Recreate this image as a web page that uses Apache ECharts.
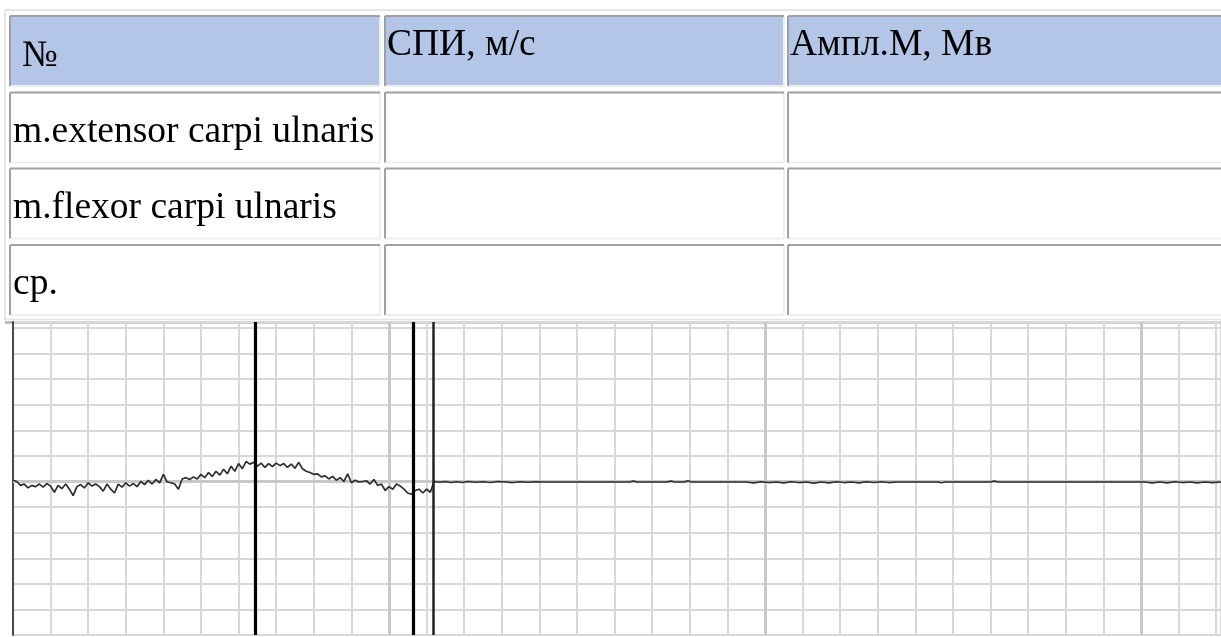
<!DOCTYPE html>
<html>
<head>
<meta charset="utf-8">
<script src="https://cdn.jsdelivr.net/npm/echarts@6/dist/echarts.min.js"></script>
<style>
html,body{margin:0;padding:0;background:#fff;}
#chart{width:1221px;height:637px;}
</style>
</head>
<body>
<div id="chart"></div>
<script>
// ---- table texts ----
const columnHeaders = ['№', 'СПИ, м/с', 'Ампл.М, Мв'];
const rowLabels = ['m.extensor carpi ulnaris', 'm.flexor carpi ulnaris', 'ср.'];

// ---- trace data (grid divisions) ----
const sampleStep = 0.1;
const noisyTrace = [0.05,0.0,-0.15,-0.1,-0.25,-0.15,-0.2,-0.1,-0.22,-0.08,
-0.18,-0.42,-0.15,-0.28,-0.1,-0.3,-0.55,-0.2,-0.12,-0.25,
-0.05,-0.18,-0.1,-0.2,-0.38,-0.1,-0.3,-0.45,-0.1,-0.22,
-0.05,-0.18,-0.08,-0.2,0.0,-0.12,0.05,-0.1,0.08,-0.05,
0.28,-0.02,-0.05,-0.1,-0.3,0.1,0.15,0.08,0.18,0.1,
0.28,0.15,0.35,0.2,0.4,0.25,0.48,0.3,0.6,0.4,
0.7,0.5,0.78,0.68,0.75,0.6,0.72,0.55,0.7,0.58,
0.72,0.62,0.7,0.55,0.68,0.52,0.75,0.5,0.4,0.35,
0.28,0.3,0.18,0.22,0.1,0.2,0.05,0.15,0.0,0.3,
-0.05,0.05,-0.02,0.0,0.03,-0.1,0.08,-0.15,-0.1,-0.35,
-0.2,-0.3,-0.1,-0.18,-0.3,-0.45,-0.5,-0.35,-0.3,-0.45,
-0.3,-0.42,0.0];
const restTrace = [[11.35,-0.03],[11.5,0.0],[11.65,-0.04],[11.8,-0.01],[11.95,-0.04],[12.1,0.0],[12.3,-0.03],[12.5,-0.01],[12.7,-0.04],[12.9,0.0],[13.1,-0.02],[13.3,-0.04],[13.5,-0.01],[13.7,-0.03],[13.9,-0.01],[14.1,-0.02],[15.0,-0.02],[16.4,-0.02],[16.5,0.02],[16.6,-0.02],[17.4,-0.02],[17.5,0.02],[17.6,-0.02],[17.85,-0.02],[17.95,0.03],[18.05,-0.02],[19.5,-0.02],[19.7,-0.05],[19.9,-0.01],[20.1,-0.04],[20.3,-0.02],[20.5,-0.05],[20.7,-0.01],[20.9,-0.04],[21.1,-0.02],[21.3,-0.06],[21.5,-0.02],[21.7,-0.05],[21.9,-0.01],[22.1,-0.04],[22.3,-0.02],[22.5,-0.05],[22.7,-0.01],[22.9,-0.04],[23.1,-0.01],[23.3,-0.04],[23.5,-0.02],[23.7,-0.02],[24.6,-0.02],[24.7,-0.05],[24.8,-0.02],[26.0,-0.02],[26.1,0.02],[26.2,-0.02],[30.1,-0.02],[30.3,-0.05],[30.5,-0.02],[30.7,-0.05],[30.9,-0.01],[31.1,-0.04],[31.3,-0.02],[31.5,-0.05],[31.7,-0.02],[31.9,-0.04],[32.13,-0.02]];
const cursorPositions = [6.44, 10.64, 11.17];
const majorDivisions = [10, 20, 30];

// ---- layout (not data) ----
const colEdges = [[10, 380], [385, 784], [788, 1232]];
const rowEdges = [[16, 86], [92.5, 162.5], [168.5, 238.5], [245, 315]];
const FONT = '"Liberation Serif", "Times New Roman", serif';
const TEXT_SIZE = 37.5;
const MID_OFFSET = TEXT_SIZE * 0.34 - 4;

function buildTable() {
  const els = [];
  // outer frame
  els.push({type:'line', shape:{x1:5,y1:10,x2:1221,y2:10}, style:{stroke:'#e6e6e6', lineWidth:2}});
  els.push({type:'line', shape:{x1:5,y1:10,x2:5,y2:321}, style:{stroke:'#e6e6e6', lineWidth:2}});
  els.push({type:'line', shape:{x1:5,y1:319.5,x2:1221,y2:319.5}, style:{stroke:'#e6e6e6', lineWidth:1.5}});
  els.push({type:'line', shape:{x1:5,y1:322.5,x2:1221,y2:322.5}, style:{stroke:'#a0a0a0', lineWidth:2}});
  rowEdges.forEach((r, ri) => {
    colEdges.forEach((c, ci) => {
      const [x0, x1] = c, [y0, y1] = r;
      els.push({type:'rect', shape:{x:x0, y:y0, width:x1-x0, height:y1-y0},
        style:{fill: ri === 0 ? '#b4c6e7' : '#ffffff'}});
      els.push({type:'line', shape:{x1:x0,y1:y1,x2:x1,y2:y1}, style:{stroke:'#eeeeee', lineWidth:2}});
      els.push({type:'line', shape:{x1:x1,y1:y0,x2:x1,y2:y1}, style:{stroke:'#eeeeee', lineWidth:2}});
      els.push({type:'line', shape:{x1:x0,y1:y0,x2:x1,y2:y0}, style:{stroke:'#a0a0a0', lineWidth:2}});
      els.push({type:'line', shape:{x1:x0,y1:y0,x2:x0,y2:y1}, style:{stroke:'#a0a0a0', lineWidth:2}});
    });
  });
  // header texts
  columnHeaders.forEach((t, ci) => {
    const isNum = ci === 0;
    const baseline = rowEdges[0][0] + (isNum ? 49 : 38);
    els.push({type:'text', x: colEdges[ci][0] + (isNum ? 12 : 2), y: baseline - MID_OFFSET,
      style:{text:t, font: TEXT_SIZE + 'px ' + FONT, fill:'#000', verticalAlign:'middle', align:'left'}});
  });
  // row labels
  rowLabels.forEach((t, ri) => {
    const baseline = rowEdges[ri + 1][0] + 48;
    els.push({type:'text', x: colEdges[0][0] + 3, y: baseline - MID_OFFSET,
      style:{text:t, font: TEXT_SIZE + 'px ' + FONT, fill:'#000', verticalAlign:'middle', align:'left'}});
  });
  return els;
}

const traceData = noisyTrace.map((v, i) => [+(i * sampleStep).toFixed(3), v]).concat(restTrace);

const chart = echarts.init(document.getElementById('chart'), null, {renderer:'canvas'});
chart.setOption({
  animation: false,
  backgroundColor: '#ffffff',
  grid: {left: 13, right: 0, top: 322, bottom: 2, containLabel: false},
  xAxis: {
    type: 'value', min: 0, max: 32.13, interval: 1,
    axisLabel: {show: false}, axisLine: {show: false}, axisTick: {show: false},
    splitLine: {show: true, lineStyle: {color: '#d8d8d8', width: 2}}
  },
  yAxis: {
    type: 'value', min: -6, max: 6.235, interval: 1,
    axisLabel: {show: false}, axisTick: {show: false},
    axisLine: {show: true, lineStyle: {color: '#4a4a4a', width: 2}},
    splitLine: {show: true, lineStyle: {color: '#d8d8d8', width: 2}}
  },
  graphic: {elements: buildTable()},
  series: [
    {
      name: 'majors', type: 'line', data: [], silent: true, z: 1,
      markLine: {
        z: 1, silent: true, symbol: ['none', 'none'], label: {show: false},
        animation: false,
        lineStyle: {color: '#c8c8c8', width: 3, type: 'solid'},
        data: [{yAxis: 0}].concat(majorDivisions.map(v => ({xAxis: v})))
      }
    },
    {
      name: 'trace', type: 'line', data: traceData, symbol: 'none', z: 3,
      lineStyle: {color: '#2e2e2e', width: 1.7}, silent: true,
      markLine: {
        z: 6, silent: true, symbol: ['none', 'none'], label: {show: false},
        animation: false,
        data: cursorPositions.map((v, i) => ({
          xAxis: v,
          lineStyle: {color: i === 2 ? '#222222' : '#000000', width: i === 2 ? 2.5 : 3.2, type: 'solid'}
        }))
      }
    }
  ]
});
</script>
</body>
</html>
